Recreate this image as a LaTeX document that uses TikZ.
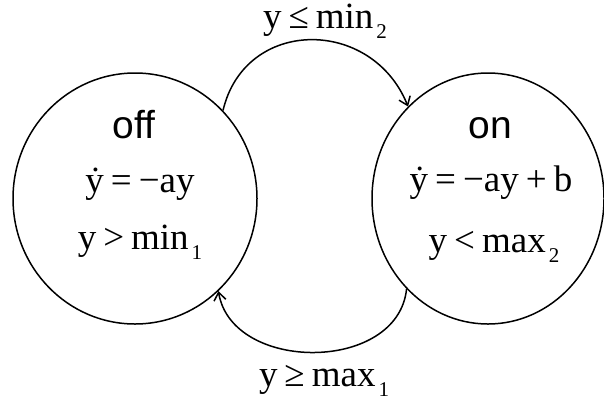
\documentclass[tikz,border=0pt]{standalone}
\usepackage{fontspec}
\setmainfont{Liberation Serif}
\newfontfamily\labelsans[Ligatures=NoCommon]{Liberation Sans}
\usetikzlibrary{shapes.geometric,arrows.meta}
\newcommand{\lowsub}[1]{\hspace{3pt}\raisebox{-10pt}{\fontsize{21}{21}\selectfont #1}}
\newcommand{\gap}{\hspace{7pt}}
\tikzset{
  state/.style={ellipse, draw, line width=1.5pt, inner sep=0pt, minimum height=251pt},
  txt/.style={anchor=base, inner sep=0pt, font=\fontsize{37}{42}\selectfont},
  sanstxt/.style={anchor=base, inner sep=0pt, font=\labelsans\fontsize{39}{44}\selectfont},
  trans/.style={line width=1.5pt, -{Straight Barb[length=8pt,width=12pt,line width=1.5pt]}}
}
\begin{document}
\begin{tikzpicture}[x=1pt,y=-1pt]
\useasboundingbox (0,0) rectangle (604,402);
\node[state, minimum width=244pt] (off) at (135,198.5) {};
\node[state, minimum width=232pt] (on) at (488,198.5) {};
% texts in off
\node[sanstxt] (offname) at (134,138) {of\kern0ptf};
\node[txt] (offeq) at (140,192) {\.{y}\gap=\gap−ay};
\node[txt] (offinv) at (140,249) {y\gap>\gap min\lowsub{1}};
% texts in on
\node[sanstxt] (onname) at (490,138) {on};
\node[txt] (oneq) at (491,191) {\.{y}\gap=\gap−ay\gap+\gap b};
\node[txt] (oninv) at (494,252) {y\gap<\gap max\lowsub{2}};
% transition labels
\node[txt] (lbltop) at (325,28) {y\gap≤\gap min\lowsub{2}};
\node[txt] (lblbot) at (324,386) {y\gap≥\gap max\lowsub{1}};
% transitions
\draw[trans] (off.45) .. controls (245,17) and (372,17) .. (on.131);
\draw[trans] (on.228) .. controls (398,373) and (232,373) .. (off.312);
\end{tikzpicture}
\end{document}
